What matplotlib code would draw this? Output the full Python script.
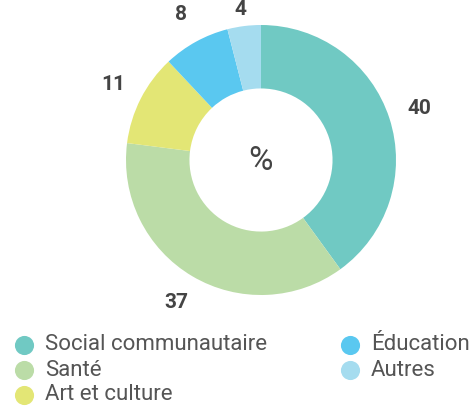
import matplotlib
matplotlib.use("Agg")
import matplotlib.pyplot as plt

categories = ["Social communautaire", "Santé", "Art et culture", "Éducation", "Autres"]
values = [40, 37, 11, 8, 4]
colors = ["#70C9C3", "#BBDCA7", "#E3E675", "#5AC8F0", "#A5DCEF"]

W, H = 474, 417
fig = plt.figure(figsize=(W / 100, H / 100), dpi=100)
ax = fig.add_axes([0, 0, 1, 1])

cx, cy, r = 261, H - 160, 135
wedges, texts = ax.pie(values, colors=colors, labels=[str(v) for v in values],
                       startangle=90, counterclock=False, center=(cx, cy), radius=r,
                       labeldistance=1.23, wedgeprops=dict(width=r * 0.47, linewidth=0),
                       textprops=dict(fontsize=15, fontweight="bold", color="#444444",
                                      family="Roboto"))
for t in texts:
    t.set_ha("center")
    t.set_va("center")
# the last label sits at the top edge; keep it inside the picture
x4, y4 = texts[-1].get_position()
texts[-1].set_position((x4, min(y4, H - 9)))

ax.set_xlim(0, W)
ax.set_ylim(0, H)
ax.set_aspect("auto")
ax.axis("off")

ax.text(cx, cy - 1, "%", ha="center", va="center", fontsize=24, color="#444444",
        family="Roboto")

# legend, two columns
col_x = [24, 350]
row_y = [345, 370, 395]
for i, (name, c) in enumerate(zip(categories, colors)):
    col = 0 if i < 3 else 1
    row = i if i < 3 else i - 3
    x, y = col_x[col], H - row_y[row]
    ax.scatter([x], [y], s=190, color=c, linewidths=0)
    ax.text(x + 21, y, name, ha="left", va="center", fontsize=16, color="#555555",
            family="Roboto")

fig.savefig("out.png", dpi=100)
